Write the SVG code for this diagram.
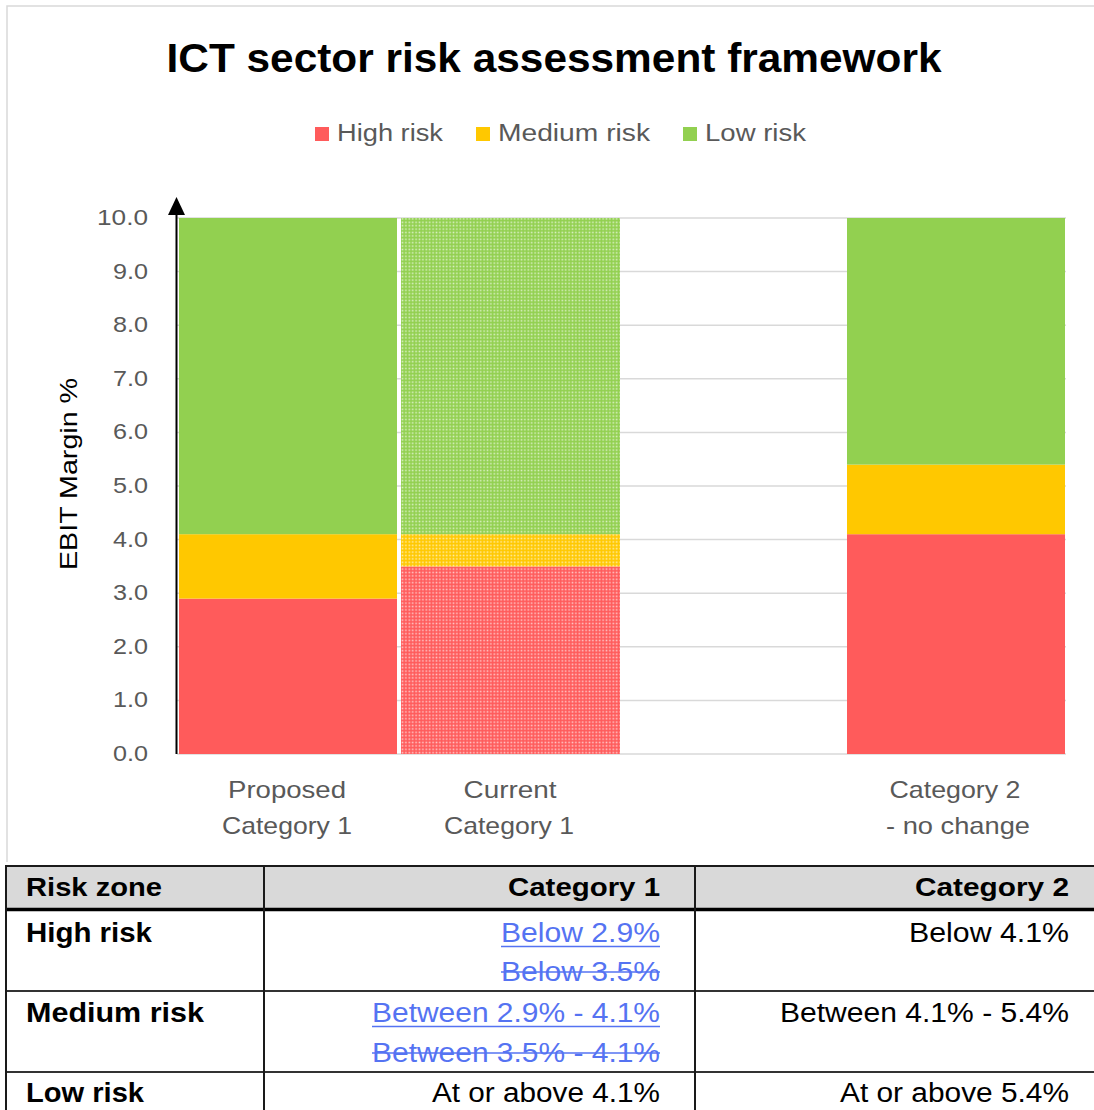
<svg xmlns="http://www.w3.org/2000/svg" width="1094" height="1110" viewBox="0 0 1094 1110">
<style>
text{font-family:"Liberation Sans",Arial,sans-serif}
.title{font-size:40px;font-weight:bold;fill:#000}
.leg{font-size:23px;fill:#595959}
.tick{font-size:22px;fill:#595959;text-anchor:end}
.cat{font-size:24px;fill:#595959;text-anchor:middle}
.ytitle{font-size:24px;fill:#000;text-anchor:middle}
.grid{stroke:#D9D9D9;stroke-width:1.5}
.th{font-size:26px;font-weight:bold;fill:#000}
.td{font-size:27px;fill:#000}
.tb{font-size:27px;font-weight:bold;fill:#000}
.blue{font-size:27px;fill:#5573F2;text-anchor:end}
.end{text-anchor:end}
.tline{stroke:#1a1a1a;stroke-width:2}
.deco{stroke:#5573F2;stroke-width:1.6}
</style>
<defs>
<pattern id="dG" width="3.4" height="3.4" patternUnits="userSpaceOnUse"><rect width="3.4" height="3.4" fill="#92D050"/><rect x="0.5" y="0.5" width="1.6" height="1.6" fill="#fff" opacity="0.65"/></pattern>
<pattern id="dY" width="3.4" height="3.4" patternUnits="userSpaceOnUse"><rect width="3.4" height="3.4" fill="#FFC800"/><rect x="0.5" y="0.5" width="1.6" height="1.6" fill="#fff" opacity="0.65"/></pattern>
<pattern id="dR" width="3.4" height="3.4" patternUnits="userSpaceOnUse"><rect width="3.4" height="3.4" fill="#FF5B5B"/><rect x="0.5" y="0.5" width="1.6" height="1.6" fill="#fff" opacity="0.65"/></pattern>
</defs>
<rect width="1094" height="1110" fill="#fff"/>
<path d="M7,862 L7,6 L1094,6" fill="none" stroke="#D9D9D9" stroke-width="1.5"/>
<g id="title"><text class="title" x="554" y="72" text-anchor="middle" textLength="775" lengthAdjust="spacingAndGlyphs">ICT sector risk assessment framework</text></g>
<g id="legend">
<rect x="315" y="127" width="14" height="14" fill="#FF5B5B"/>
<text class="leg" x="337" y="141" textLength="106" lengthAdjust="spacingAndGlyphs">High risk</text>
<rect x="476" y="127" width="14" height="14" fill="#FFC800"/>
<text class="leg" x="498" y="141" textLength="152" lengthAdjust="spacingAndGlyphs">Medium risk</text>
<rect x="683" y="127" width="14" height="14" fill="#92D050"/>
<text class="leg" x="705" y="141" textLength="101" lengthAdjust="spacingAndGlyphs">Low risk</text>
</g>
<g id="gridlines">
<line class="grid" x1="177" y1="218" x2="1066" y2="218"/>
<line class="grid" x1="177" y1="271.6" x2="1066" y2="271.6"/>
<line class="grid" x1="177" y1="325.2" x2="1066" y2="325.2"/>
<line class="grid" x1="177" y1="378.8" x2="1066" y2="378.8"/>
<line class="grid" x1="177" y1="432.4" x2="1066" y2="432.4"/>
<line class="grid" x1="177" y1="486" x2="1066" y2="486"/>
<line class="grid" x1="177" y1="539.6" x2="1066" y2="539.6"/>
<line class="grid" x1="177" y1="593.2" x2="1066" y2="593.2"/>
<line class="grid" x1="177" y1="646.8" x2="1066" y2="646.8"/>
<line class="grid" x1="177" y1="700.4" x2="1066" y2="700.4"/>
<line class="grid" x1="177" y1="754" x2="1066" y2="754"/>
</g>
<g id="ticks">
<text class="tick" x="148" y="225" textLength="51" lengthAdjust="spacingAndGlyphs">10.0</text>
<text class="tick" x="148" y="278.6" textLength="35" lengthAdjust="spacingAndGlyphs">9.0</text>
<text class="tick" x="148" y="332.2" textLength="35" lengthAdjust="spacingAndGlyphs">8.0</text>
<text class="tick" x="148" y="385.8" textLength="35" lengthAdjust="spacingAndGlyphs">7.0</text>
<text class="tick" x="148" y="439.4" textLength="35" lengthAdjust="spacingAndGlyphs">6.0</text>
<text class="tick" x="148" y="493" textLength="35" lengthAdjust="spacingAndGlyphs">5.0</text>
<text class="tick" x="148" y="546.6" textLength="35" lengthAdjust="spacingAndGlyphs">4.0</text>
<text class="tick" x="148" y="600.2" textLength="35" lengthAdjust="spacingAndGlyphs">3.0</text>
<text class="tick" x="148" y="653.8" textLength="35" lengthAdjust="spacingAndGlyphs">2.0</text>
<text class="tick" x="148" y="707.4" textLength="35" lengthAdjust="spacingAndGlyphs">1.0</text>
<text class="tick" x="148" y="761" textLength="35" lengthAdjust="spacingAndGlyphs">0.0</text>
</g>
<g id="y-axis-title"><text class="ytitle" transform="translate(77,474) rotate(-90)" textLength="192" lengthAdjust="spacingAndGlyphs">EBIT Margin %</text></g>
<g id="bar-proposed-cat1">
<rect x="179" y="598.6" width="218" height="155.4" fill="#FF5B5B"/>
<rect x="179" y="534.2" width="218" height="64.4" fill="#FFC800"/>
<rect x="179" y="218" width="218" height="316.2" fill="#92D050"/>
</g>
<g id="bar-current-cat1">
<rect x="401" y="566.4" width="219" height="187.6" fill="url(#dR)"/>
<rect x="401" y="534.2" width="219" height="32.2" fill="url(#dY)"/>
<rect x="401" y="218" width="219" height="316.2" fill="url(#dG)"/>
</g>
<g id="bar-cat2">
<rect x="847" y="534.2" width="218" height="219.8" fill="#FF5B5B"/>
<rect x="847" y="464.6" width="218" height="69.6" fill="#FFC800"/>
<rect x="847" y="218" width="218" height="246.6" fill="#92D050"/>
</g>
<g id="axis">
<line x1="176.5" y1="754" x2="176.5" y2="210" stroke="#000" stroke-width="2"/>
<polygon points="176.5,197 168,215 185,215" fill="#000"/>
</g>
<g id="category-labels">
<text class="cat" x="287" y="798" textLength="118" lengthAdjust="spacingAndGlyphs">Proposed</text>
<text class="cat" x="287" y="834" textLength="130" lengthAdjust="spacingAndGlyphs">Category 1</text>
<text class="cat" x="510" y="798" textLength="93" lengthAdjust="spacingAndGlyphs">Current</text>
<text class="cat" x="509" y="834" textLength="130" lengthAdjust="spacingAndGlyphs">Category 1</text>
<text class="cat" x="955" y="798" textLength="131" lengthAdjust="spacingAndGlyphs">Category 2</text>
<text class="cat" x="958" y="834" textLength="144" lengthAdjust="spacingAndGlyphs">- no change</text>
</g>
<g id="table">
<rect x="6" y="866" width="1090" height="43" fill="#D9D9D9"/>
<line class="tline" x1="6" y1="866" x2="1094" y2="866"/>
<line x1="6" y1="909.5" x2="1094" y2="909.5" stroke="#000" stroke-width="3.5"/>
<line x1="6" y1="991" x2="1094" y2="991" stroke="#333" stroke-width="2"/>
<line x1="6" y1="1072" x2="1094" y2="1072" stroke="#333" stroke-width="2"/>
<line class="tline" x1="6" y1="865" x2="6" y2="1110"/>
<line class="tline" x1="264" y1="865" x2="264" y2="1110"/>
<line class="tline" x1="695" y1="865" x2="695" y2="1110"/>
<text class="th" x="26" y="896" textLength="136" lengthAdjust="spacingAndGlyphs">Risk zone</text>
<text class="th end" x="660" y="896" textLength="152" lengthAdjust="spacingAndGlyphs">Category 1</text>
<text class="th end" x="1069" y="896" textLength="154" lengthAdjust="spacingAndGlyphs">Category 2</text>
<text class="tb" x="26" y="942" textLength="126" lengthAdjust="spacingAndGlyphs">High risk</text>
<text class="blue" x="660" y="942" textLength="159" lengthAdjust="spacingAndGlyphs">Below 2.9%</text>
<line class="deco" x1="501" y1="946.5" x2="660" y2="946.5"/>
<text class="blue" x="660" y="981" textLength="159" lengthAdjust="spacingAndGlyphs">Below 3.5%</text>
<line class="deco" x1="501" y1="972" x2="660" y2="972"/>
<text class="td end" x="1069" y="942" textLength="160" lengthAdjust="spacingAndGlyphs">Below 4.1%</text>
<text class="tb" x="26" y="1022" textLength="178" lengthAdjust="spacingAndGlyphs">Medium risk</text>
<text class="blue" x="660" y="1022" textLength="288" lengthAdjust="spacingAndGlyphs">Between 2.9% - 4.1%</text>
<line class="deco" x1="372" y1="1026.5" x2="660" y2="1026.5"/>
<text class="blue" x="660" y="1062" textLength="288" lengthAdjust="spacingAndGlyphs">Between 3.5% - 4.1%</text>
<line class="deco" x1="372" y1="1053" x2="660" y2="1053"/>
<text class="td end" x="1069" y="1022" textLength="289" lengthAdjust="spacingAndGlyphs">Between 4.1% - 5.4%</text>
<text class="tb" x="26" y="1102" textLength="118" lengthAdjust="spacingAndGlyphs">Low risk</text>
<text class="td end" x="660" y="1102" textLength="228" lengthAdjust="spacingAndGlyphs">At or above 4.1%</text>
<text class="td end" x="1069" y="1102" textLength="229" lengthAdjust="spacingAndGlyphs">At or above 5.4%</text>
</g>
</svg>
